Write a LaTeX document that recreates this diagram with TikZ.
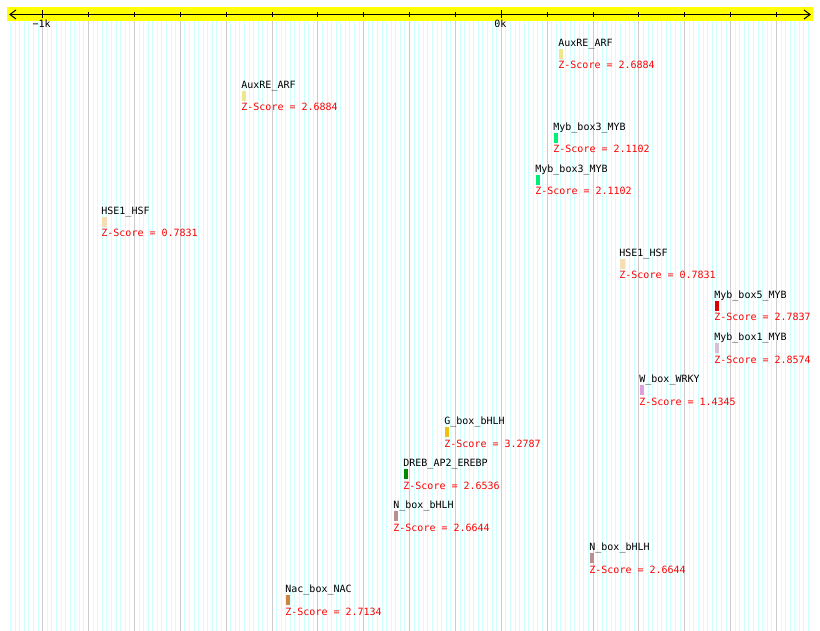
\documentclass[tikz,border=0pt]{standalone}
\usepackage{fontspec}
\newfontfamily\monof{DejaVu Sans Mono}
\definecolor{cyanline}{RGB}{208,255,255}
\definecolor{grayline}{RGB}{204,204,204}
\definecolor{bandc}{RGB}{255,255,0}
\definecolor{zred}{RGB}{255,0,0}
\definecolor{khakic}{RGB}{240,230,140}
\definecolor{springc}{RGB}{0,238,118}
\definecolor{wheatc}{RGB}{245,222,179}
\definecolor{redc}{RGB}{224,0,0}
\definecolor{thistlec}{RGB}{216,191,216}
\definecolor{plumc}{RGB}{221,160,221}
\definecolor{goldc}{RGB}{240,192,16}
\definecolor{dgreenc}{RGB}{0,136,0}
\definecolor{rosyc}{RGB}{188,143,143}
\definecolor{peruc}{RGB}{205,133,63}
\begin{document}
\begin{tikzpicture}[x=1pt,y=-1pt,
  lbl/.style={font=\monof\fontsize{10}{12}\selectfont, anchor=base west, inner sep=0pt, outer sep=0pt},
  zs/.style={lbl, text=zred},
  ticklbl/.style={lbl, anchor=base},
  axisline/.style={line width=1pt, black},
  gridfine/.style={cyanline, line width=1pt},
  gridmain/.style={grayline, line width=1pt}]
\useasboundingbox (0,0) rectangle (820,631);
\fill[white] (0,0) rectangle (820,631);
% fine grid every 10 bp
\foreach \k in {-107,...,67}
  \draw[gridfine] ({501.3+\k*4.586},21) -- ({501.3+\k*4.586},631);
% main grid every 100 bp
\foreach \k in {-10,...,6}
  \draw[gridmain] ({501.3+\k*45.86},21) -- ({501.3+\k*45.86},631);
% ruler band
\fill[bandc] (7,7) rectangle (813,21);
\coordinate (al) at (10,14.5);
\coordinate (ar) at (810,14.5);
\draw[axisline] (al) -- (ar);
\draw[axisline] (16,10) -- (al) -- (16,19);
\draw[axisline] (804,10) -- (ar) -- (804,19);
\foreach \k in {-10,...,6}
  \draw[axisline] ({501.3+\k*45.86},12.3) -- ({501.3+\k*45.86},16.7);
\foreach \k in {-10,0}
  \draw[axisline] ({501.3+\k*45.86},10.5) -- ({501.3+\k*45.86},18.5);
\node[ticklbl] (tkm1) at (41.7,28) {−1k};
\node[ticklbl] (tk0) at (500.3,28) {0k};
% sites
\foreach \i/\bx/\bw/\col/\nm/\sc in {
  1/559/4/khakic/AuxRE\_ARF/2.6884,
  2/242/4/khakic/AuxRE\_ARF/2.6884,
  3/554/3.5/springc/Myb\_box3\_MYB/2.1102,
  4/536/3.5/springc/Myb\_box3\_MYB/2.1102,
  5/102/4.5/wheatc/HSE1\_HSF/0.7831,
  6/620/4.5/wheatc/HSE1\_HSF/0.7831,
  7/715/4/redc/Myb\_box5\_MYB/2.7837,
  8/715/4/thistlec/Myb\_box1\_MYB/2.8574,
  9/640/4/plumc/W\_box\_WRKY/1.4345,
  10/445/4/goldc/G\_box\_bHLH/3.2787,
  11/404/3.5/dgreenc/DREB\_AP2\_EREBP/2.6536,
  12/394/4/rosyc/N\_box\_bHLH/2.6644,
  13/590/4/rosyc/N\_box\_bHLH/2.6644,
  14/286/3.5/peruc/Nac\_box\_NAC/2.7134}
{
  \pgfmathsetmacro\B{46.5+42*(\i-1)}
  \node[lbl] (name\i) at ({\bx-0.6},\B) {\nm};
  \fill[\col] (\bx,{\B+2.5}) rectangle ++(\bw,10);
  \node[zs] (score\i) at ({\bx-0.6},{\B+22.5}) {Z-Score = \sc};
}
\end{tikzpicture}
\end{document}
